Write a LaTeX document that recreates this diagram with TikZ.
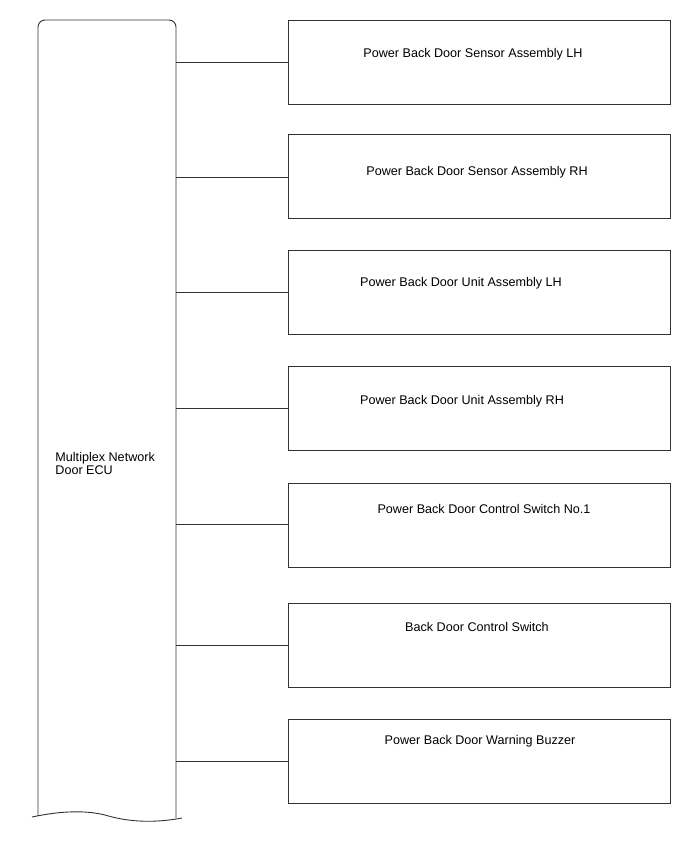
\documentclass[tikz,border=0pt]{standalone}
\usepackage{fontspec}
\setmainfont{Liberation Sans}
\begin{document}
\begin{tikzpicture}[x=1pt,y=-1pt,
  line width=0.9pt,
  lc/.style={draw=black!80},
  unitbox/.style={lc, rectangle, minimum width=382pt, minimum height=84pt, anchor=north west, inner sep=0pt},
  lbl/.style={font=\fontsize{12.6}{13}\selectfont, text=black, inner sep=0pt, anchor=center},
  conn/.style={lc}]
\useasboundingbox (0,0) rectangle (688,852);
% ECU
\draw[lc, rounded corners=7pt] (38,816) -- (38,20) -- (176,20) -- (176,818);
\draw[lc] (32,817) .. controls (60,811) and (85,810) .. (105,815) .. controls (125,821) and (150,824) .. (182,818);
\node[lbl, anchor=north west, align=left] (ecu) at (55,452) {Multiplex Network\\Door ECU};
\coordinate (e1) at (176,62);
\coordinate (e2) at (176,177);
\coordinate (e3) at (176,292);
\coordinate (e4) at (176,408);
\coordinate (e5) at (176,524);
\coordinate (e6) at (176,645);
\coordinate (e7) at (176,761);
% boxes
\node[unitbox] (b1) at (288,20) {};
\node[unitbox] (b2) at (288,134) {};
\node[unitbox] (b3) at (288,250) {};
\node[unitbox] (b4) at (288,366) {};
\node[unitbox] (b5) at (288,483) {};
\node[unitbox] (b6) at (288,603) {};
\node[unitbox] (b7) at (288,719) {};
\node[lbl] (t1) at (473,54) {Power Back Door Sensor Assembly LH};
\node[lbl] (t2) at (477,172) {Power Back Door Sensor Assembly RH};
\node[lbl] (t3) at (461,283) {Power Back Door Unit Assembly LH};
\node[lbl] (t4) at (462,401) {Power Back Door Unit Assembly RH};
\node[lbl] (t5) at (484,509) {Power Back Door Control Switch No.1};
\node[lbl] (t6) at (477,627) {Back Door Control Switch};
\node[lbl] (t7) at (480,741) {Power Back Door Warning Buzzer};
\draw[conn] (e1) -- (e1 -| b1.west);
\draw[conn] (e2) -- (e2 -| b2.west);
\draw[conn] (e3) -- (e3 -| b3.west);
\draw[conn] (e4) -- (e4 -| b4.west);
\draw[conn] (e5) -- (e5 -| b5.west);
\draw[conn] (e6) -- (e6 -| b6.west);
\draw[conn] (e7) -- (e7 -| b7.west);
\end{tikzpicture}
\end{document}
